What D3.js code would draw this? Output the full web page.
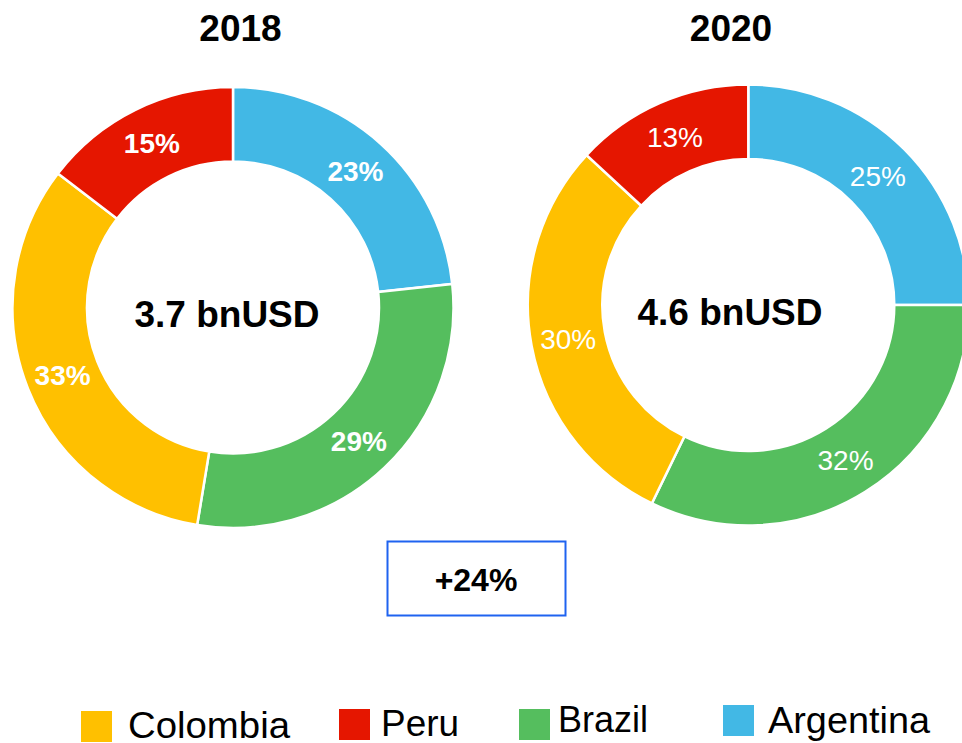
<!DOCTYPE html>
<html>
<head>
<meta charset="utf-8">
<script src="https://cdn.jsdelivr.net/npm/d3@7"></script>
<style>
  html, body { margin: 0; padding: 0; background: #ffffff; }
  svg { display: block; font-family: "Liberation Sans", Arial, sans-serif; }
</style>
</head>
<body>
<svg id="chart" width="962" height="743"></svg>
<script>
// ---- data ----
const countries = ["Argentina", "Brazil", "Colombia", "Peru"];
const years = ["2018", "2020"];
const shares2018 = [23.3, 29.3, 32.8, 14.6];
const shares2020 = [25.0, 32.2, 29.7, 13.1];
const totals = ["3.7 bnUSD", "4.6 bnUSD"];
const growthLabel = "+24%";
const legendOrder = ["Colombia", "Peru", "Brazil", "Argentina"];

// ---- styles / layout ----
const colors = {
  Argentina: "#42B8E5",
  Brazil: "#55BE5E",
  Colombia: "#FFC000",
  Peru: "#E51600"
};
const donutLayout = [
  { cx: 233, cy: 307.5, titleX: 240.5, centerX: 227, labelWeight: "bold" },
  { cx: 748.3, cy: 305, titleX: 731, centerX: 730, labelWeight: "normal" }
];
const outerR = 220.5, innerR = 146;
const legendLayout = [
  { x: 81, y: 711, tx: 128, ty: 738, w: 162 },
  { x: 339, y: 709, tx: 381, ty: 736, w: 78 },
  { x: 519, y: 709, tx: 558, ty: 732, w: 90 },
  { x: 723, y: 705, tx: 768, ty: 733, w: 162 }
];

const svg = d3.select("#chart");
const pie = d3.pie().sort(null).value(d => d.value).startAngle(0).endAngle(2 * Math.PI);
const arc = d3.arc().innerRadius(innerR).outerRadius(outerR);

[shares2018, shares2020].forEach((shares, i) => {
  const L = donutLayout[i];
  const data = countries.map((c, k) => ({ name: c, value: shares[k] }));
  const arcs = pie(data);

  svg.append("text")
    .attr("x", L.titleX).attr("y", 41)
    .attr("text-anchor", "middle")
    .attr("font-size", 37).attr("font-weight", "bold")
    .attr("fill", "#000")
    .text(years[i]);

  const g = svg.append("g").attr("transform", `translate(${L.cx},${L.cy})`);
  g.selectAll("path").data(arcs).join("path")
    .attr("d", arc)
    .attr("fill", d => colors[d.data.name])
    .attr("stroke", "#fff")
    .attr("stroke-width", 2.5);

  g.selectAll("text.pct").data(arcs).join("text")
    .attr("class", "pct")
    .attr("transform", d => `translate(${arc.centroid(d)})`)
    .attr("dy", "0.36em")
    .attr("text-anchor", "middle")
    .attr("font-size", 28)
    .attr("font-weight", L.labelWeight)
    .attr("fill", "#fff")
    .text(d => Math.round(d.data.value) + "%");

  svg.append("text")
    .attr("x", L.centerX).attr("y", L.cy + 19.5)
    .attr("text-anchor", "middle")
    .attr("font-size", 37).attr("font-weight", "bold")
    .attr("fill", "#000")
    .text(totals[i]);
});

// growth box
svg.append("rect")
  .attr("x", 387.5).attr("y", 541.5)
  .attr("width", 178).attr("height", 74)
  .attr("fill", "#fff")
  .attr("stroke", "#1F63F0")
  .attr("stroke-width", 2);
svg.append("text")
  .attr("x", 476).attr("y", 591)
  .attr("text-anchor", "middle")
  .attr("font-size", 32).attr("font-weight", "bold")
  .attr("fill", "#000")
  .text(growthLabel);

// legend
legendOrder.forEach((name, i) => {
  const p = legendLayout[i];
  svg.append("rect")
    .attr("x", p.x).attr("y", p.y)
    .attr("width", 31).attr("height", 31)
    .attr("fill", colors[name]);
  svg.append("text")
    .attr("x", p.tx).attr("y", p.ty)
    .attr("font-size", 36)
    .attr("textLength", p.w)
    .attr("lengthAdjust", "spacingAndGlyphs")
    .attr("fill", "#000")
    .text(name);
});
</script>
</body>
</html>
